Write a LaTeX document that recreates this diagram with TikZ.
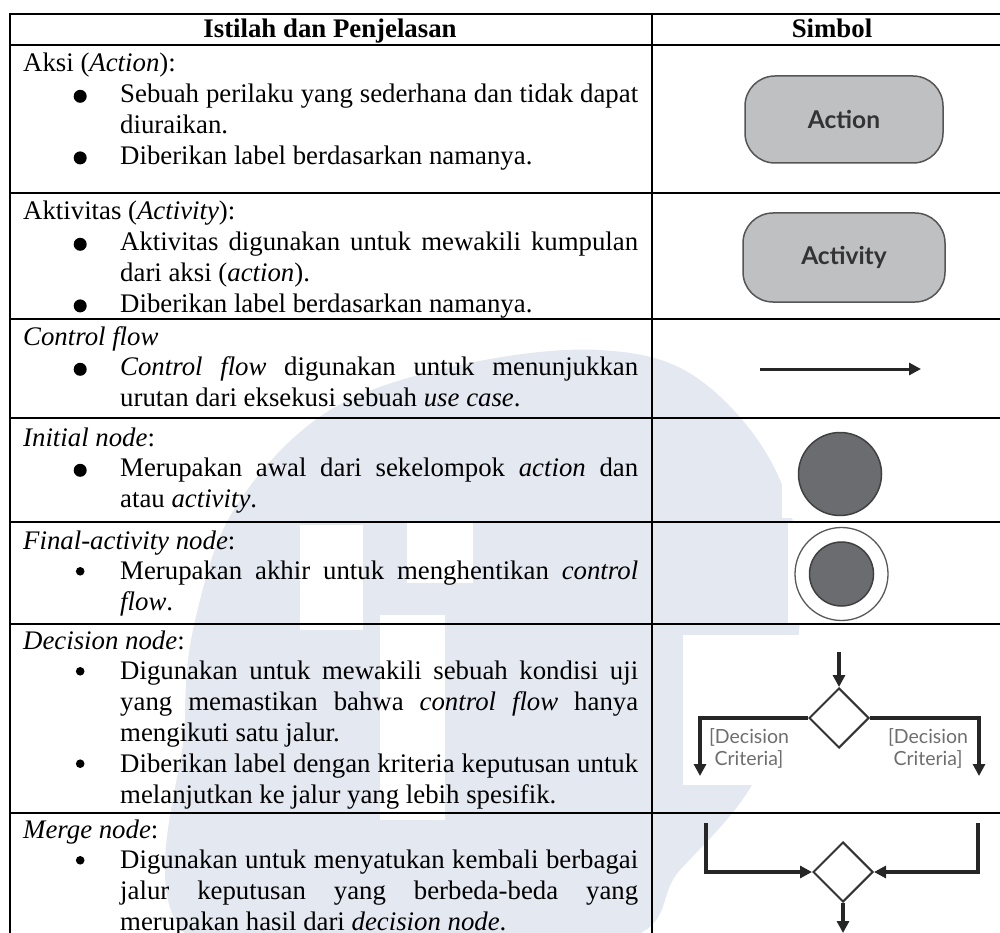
\documentclass[tikz,border=0pt]{standalone}
\usepackage{fontspec}
\setmainfont{Liberation Serif}
\newfontfamily\symfont{Lato}
\usetikzlibrary{shapes.geometric,arrows.meta}
\definecolor{wm}{HTML}{E4E8F0}
\definecolor{boxfill}{HTML}{BFC0C2}
\definecolor{boxline}{HTML}{555555}
\definecolor{dotfill}{HTML}{6B6C70}
\definecolor{symtext}{HTML}{333333}
\definecolor{crit}{HTML}{6E6E6E}
\newcommand\bigdot{\tikz[baseline=0pt]\fill (0pt,6.5pt) circle (6.5pt);}
\newcommand\smalldot{\tikz[baseline=0pt]\fill (0pt,8.5pt) circle (4.3pt);}
\newcommand\ttl[1]{{\leftskip=0pt\noindent #1\par}}
\newcommand\bA[1]{{\leftskip=97pt\noindent\llap{\makebox[26pt]{\bigdot}\hspace{27pt}}#1\par}}
\newcommand\bB[1]{{\leftskip=97pt\noindent\llap{\makebox[26pt]{\smalldot}\hspace{27pt}}#1\par}}
\begin{document}
\begin{tikzpicture}[x=1pt,y=-1pt,
  cell/.style={anchor=base west, text width=615pt, align=justify, inner sep=0pt,
    font=\fontsize{26.8}{30.8}\selectfont},
  head/.style={anchor=base, inner sep=0pt, font=\fontsize{26.8}{30.8}\selectfont\bfseries},
  rulel/.style={line width=2.2pt},
  rbox/.style={draw=boxline, fill=boxfill, line width=1.5pt, rounded corners=30pt,
    inner sep=0pt, font=\symfont\bfseries\fontsize{24.5}{28}\selectfont, text=symtext},
  dot/.style={circle, draw=black!75, fill=dotfill, line width=1.5pt, inner sep=0pt},
  ring/.style={circle, draw=black!65, fill=white, line width=1.3pt, inner sep=0pt},
  dia/.style={diamond, draw=black!80, fill=white, line width=2pt, inner sep=0pt,
    minimum width=60pt, minimum height=60pt},
  arr/.style={line width=3.2pt, draw=black!85, -{Triangle[length=12pt,width=12pt]}},
  critlbl/.style={align=center, inner sep=0pt, text=crit,
    font=\symfont\fontsize{19.5}{22}\selectfont}
]
\useasboundingbox (0,0) rectangle (1000,933);
% watermark
\fill[wm] plot[smooth cycle, tension=0.6] coordinates {(240,500) (330,410) (460,365) (600,350)
  (700,380) (780,480) (800,620) (760,770) (680,870) (600,945) (200,945) (185,720) (200,600)};
\fill[white] (300,525) rectangle (363,630);
\fill[white] (380,615) rectangle (445,820);
\fill[white] (407,523) rectangle (473,583);
% white image backgrounds of the symbols
\fill[white] (782,420) rectangle (1000,518);
\fill[white] (788,523) rectangle (892,623);
\fill[white] (683,635) rectangle (1000,785);
% table rules
\foreach \y in {14,45,193,319,418,522,624,813} \draw[rulel] (10,\y) -- (1000,\y);
\draw[rulel] (10,13) -- (10,933);
\draw[rulel] (652,13) -- (652,933);
% header
\node[head] (h1) at (330,38) {Istilah dan Penjelasan};
\node[head] (h2) at (832,38) {Simbol};
% text cells
\node[cell] (t1) at (23,72) {\ttl{Aksi (\textit{Action}):}
  \bA{Sebuah perilaku yang sederhana dan tidak dapat\linebreak diuraikan.}
  \bA{Diberikan label berdasarkan namanya.}};
\node[cell] (t2) at (23,220) {\ttl{Aktivitas (\textit{Activity}):}
  \bA{Aktivitas digunakan untuk mewakili kumpulan\linebreak dari aksi (\textit{action}).}
  \bA{Diberikan label berdasarkan namanya.}};
\node[cell] (t3) at (23,345) {\ttl{\textit{Control flow}}
  \bA{\textit{Control flow} digunakan untuk menunjukkan\linebreak urutan dari eksekusi sebuah \textit{use case}.}};
\node[cell] (t4) at (23,446) {\ttl{\textit{Initial node}:}
  \bA{Merupakan awal dari sekelompok \textit{action} dan\linebreak atau \textit{activity}.}};
\node[cell] (t5) at (23,549) {\ttl{\textit{Final-activity node}:}
  \bB{Merupakan akhir untuk menghentikan \textit{control}\linebreak \textit{flow}.}};
\node[cell] (t6) at (23,649) {\ttl{\textit{Decision node}:}
  \bB{Digunakan untuk mewakili sebuah kondisi uji\linebreak yang memastikan bahwa \textit{control flow} hanya\linebreak mengikuti satu jalur.}
  \bB{Diberikan label dengan kriteria keputusan untuk\linebreak melanjutkan ke jalur yang lebih spesifik.}};
\node[cell] (t7) at (23,838) {\ttl{\textit{Merge node}:}
  \bB{Digunakan untuk menyatukan kembali berbagai\linebreak jalur keputusan yang berbeda-beda yang\linebreak merupakan hasil dari \textit{decision node}.}};
% symbols
\node[rbox, minimum width=198pt, minimum height=87pt] (action) at (844,119.5) {Action};
\node[rbox, minimum width=202pt, minimum height=89pt] (activity) at (844,257.5) {Activity};
\coordinate (cfa) at (760,369);
\coordinate (cfb) at (921,369);
\draw[arr, line width=3pt] (cfa) -- (cfb);
\node[dot, minimum size=83pt] (init) at (840,474) {};
\node[ring, minimum size=93pt] (finring) at (841.5,574) {};
\node[dot, minimum size=64pt] (fin) at (841.5,574) {};
% decision
\node[dia] (dd) at (839,718) {};
\coordinate (din) at (839,652);
\coordinate (dl) at (700,776);
\coordinate (dr) at (979,776);
\draw[arr] (din) -- (dd.north);
\draw[arr] (dd.west) -| (dl);
\draw[arr] (dd.east) -| (dr);
\node[critlbl] (cl) at (749,748) {[Decision\\Criteria]};
\node[critlbl] (cr) at (928,748) {[Decision\\Criteria]};
% merge
\node[dia] (md) at (843,872) {};
\coordinate (ml) at (706,823);
\coordinate (mr) at (978,823);
\coordinate (mout) at (843,933);
\draw[arr] (ml) |- (md.west);
\draw[arr] (mr) |- (md.east);
\draw[arr] (md.south) -- (mout);
\end{tikzpicture}
\end{document}
